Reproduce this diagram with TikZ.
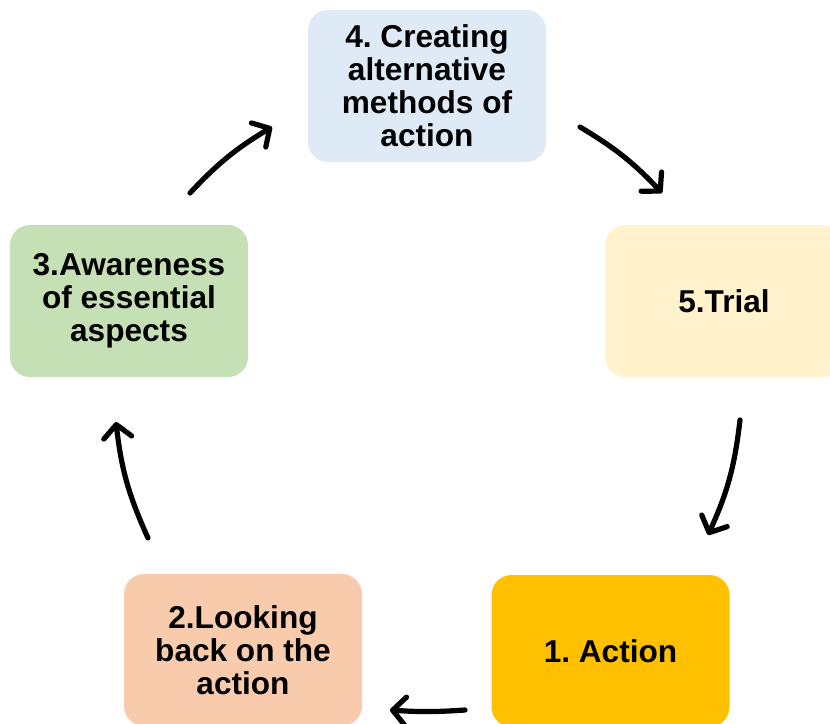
\documentclass[tikz,border=0pt]{standalone}
\usepackage{fontspec}
\setmainfont{Liberation Sans}
\usetikzlibrary{arrows.meta}
\definecolor{cblue}{HTML}{DEEBF7}
\definecolor{cyellow}{HTML}{FFF2CC}
\definecolor{cgold}{HTML}{FFC000}
\definecolor{cpeach}{HTML}{F8CBAD}
\definecolor{cgreen}{HTML}{C5E0B4}
\frenchspacing
\begin{document}
\begin{tikzpicture}[x=1pt,y=-1pt,
  stagebox/.style={rounded corners=20pt, minimum width=238pt, minimum height=152pt,
    align=center, inner sep=0pt, font=\fontsize{31.6}{33}\selectfont\bfseries\frenchspacing, text=black},
  cyc/.style={line width=5.2pt, line cap=round, -{Straight Barb[length=13pt,width=28pt,line cap=round,line join=round]}}
]
\useasboundingbox (0,0) rectangle (830,723);
\node[stagebox, fill=cblue] (b4) at (427,86) {4. Creating\\alternative\\methods of\\action};
\node[stagebox, fill=cyellow] (b5) at (724,301) {5.Trial};
\node[stagebox, fill=cgold] (b1) at (610.5,651) {1. Action};
\node[stagebox, fill=cpeach] (b2) at (243,650) {2.Looking\\back on the\\action};
\node[stagebox, fill=cgreen] (b3) at (129,301) {3.Awareness\\of essential\\aspects};
\coordinate (a34s) at (190,193);
\coordinate (a34e) at (272,127);
\coordinate (a45s) at (580,127);
\coordinate (a45e) at (662,193);
\coordinate (a51s) at (740,420);
\coordinate (a51e) at (708,535);
\coordinate (a12s) at (465,710);
\coordinate (a12e) at (390,710);
\coordinate (a23s) at (148,538);
\coordinate (a23e) at (116,422);
\draw[cyc] (a34s) to[bend left=8] (a34e);
\draw[cyc] (a45s) to[bend left=8] (a45e);
\draw[cyc] (a51s) to[bend left=9] (a51e);
\draw[cyc] (a12s) to[bend left=4] (a12e);
\draw[cyc] (a23s) to[bend left=9] (a23e);
\end{tikzpicture}
\end{document}
